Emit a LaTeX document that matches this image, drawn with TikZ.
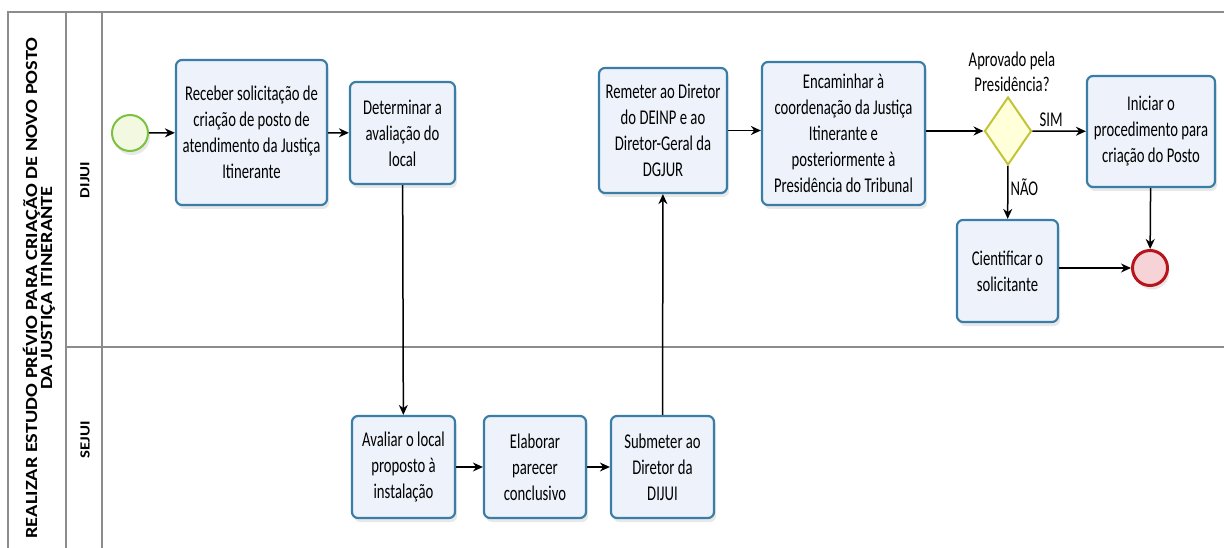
\documentclass[tikz,border=0pt]{standalone}
\usepackage{fontspec}
\setmainfont{Carlito}
\newfontfamily\boxfont{Carlito}[FakeStretch=0.70]
\newfontfamily\poolfont{Carlito}[FakeStretch=1.2]
\usetikzlibrary{arrows.meta,shapes.geometric,shadows}
\definecolor{taskline}{HTML}{3A7DA6}
\definecolor{taskfill}{HTML}{EEF3FB}
\definecolor{poolline}{HTML}{8C8C8C}
\tikzset{
  task/.style={draw=taskline, line width=2.2pt, fill=taskfill, rounded corners=6pt, align=center,
    inner sep=0pt, font=\boxfont\fontsize{21}{26}\selectfont,
    drop shadow={opacity=0.18, shadow xshift=2pt, shadow yshift=-4pt}},
  flow/.style={-{Stealth[length=10pt,width=9pt]}, line width=1.5pt},
  lane/.style={draw=poolline, line width=1.5pt},
  txt/.style={align=center, font=\boxfont\fontsize{21}{25}\selectfont}
}
\begin{document}
\begin{tikzpicture}[x=1pt, y=-1pt]
\useasboundingbox (0,0) rectangle (1224,548);
\definecolor{startline}{HTML}{7CC142}
\definecolor{startfill}{HTML}{F2F9E0}
\definecolor{endline}{HTML}{B8141B}
\definecolor{endfill}{HTML}{F6D3D6}
\definecolor{gateline}{HTML}{C4C43A}
\definecolor{gatefill}{HTML}{FFFFD9}
\draw[lane] (1224,12) -| (8,548);
\draw[lane] (66,12) -- (66,548);
\draw[lane] (102,12) -- (102,548);
\draw[lane] (66,347) -- (1224,347);
\node[rotate=90, align=center, font=\poolfont\bfseries\fontsize{17}{15}\selectfont] (titulo) at (39,288) {REALIZAR ESTUDO PRÉVIO PARA CRIAÇÃO DE NOVO POSTO\\DA JUSTIÇA ITINERANTE};
\node[rotate=90, font=\poolfont\bfseries\fontsize{14}{15}\selectfont] (dijui) at (85,180) {DIJUI};
\node[rotate=90, font=\poolfont\bfseries\fontsize{14}{15}\selectfont] (sejui) at (85,440) {SEJUI};
\node[circle, draw=startline, line width=2pt, fill=startfill, minimum size=36pt, drop shadow={opacity=0.18, shadow xshift=2pt, shadow yshift=-4pt}] (inicio) at (130,133) {};
\node[task, minimum width=151pt, minimum height=145pt] (receber) at (251.5,132.5) {Receber solicitação de\\criação de posto de\\atendimento da Justiça\\Itinerante};
\node[task, minimum width=105pt, minimum height=102pt] (determinar) at (402.5,133) {Determinar a\\avaliação do\\local};
\node[task, minimum width=128pt, minimum height=125pt] (remeter) at (663,130.5) {Remeter ao Diretor\\do DEINP e ao\\Diretor-Geral da\\DGJUR};
\node[task, minimum width=163pt, minimum height=143pt] (encaminhar) at (843.5,133.5) {Encaminhar à\\coordenação da Justiça\\Itinerante e\\posteriormente à\\Presidência do Tribunal};
\node[diamond, draw=gateline, line width=2pt, fill=gatefill, minimum width=47pt, minimum height=68pt, inner sep=0pt] (aprovado) at (1008,131) {};
\node[txt] (pergunta) at (1012,72) {Aprovado pela\\Presidência?};
\node[task, minimum width=128pt, minimum height=111pt] (iniciar) at (1151,131.5) {Iniciar o\\procedimento para\\criação do Posto};
\node[task, minimum width=101pt, minimum height=102pt] (cientificar) at (1007.5,271) {Cientificar o\\solicitante};
\node[circle, draw=endline, line width=3pt, fill=endfill, minimum size=35pt, drop shadow={opacity=0.18, shadow xshift=2pt, shadow yshift=-4pt}] (fim) at (1150,268) {};
\node[task, minimum width=103pt, minimum height=102pt] (avaliar) at (403.5,467) {Avaliar o local\\proposto à\\instalação};
\node[task, minimum width=102pt, minimum height=102pt] (elaborar) at (535,467) {Elaborar\\parecer\\conclusivo};
\node[task, minimum width=103pt, minimum height=102pt] (submeter) at (662.5,467) {Submeter ao\\Diretor da\\DIJUI};
\draw[flow] (inicio) -- (receber);
\draw[flow] (receber) -- (determinar);
\draw[flow] (determinar) -- (avaliar);
\draw[flow] (avaliar) -- (elaborar);
\draw[flow] (elaborar) -- (submeter);
\draw[flow] (submeter) -- (remeter);
\draw[flow] (remeter.east) -- (remeter.east -| encaminhar.west);
\draw[flow] (encaminhar.east |- aprovado) -- (aprovado.west);
\draw[flow] (aprovado) -- node[txt, above, pos=0.35] (sim) {SIM} (iniciar);
\draw[flow] (aprovado) -- node[txt, right, pos=0.4, inner sep=2pt] (nao) {NÃO} (cientificar);
\draw[flow] (iniciar) -- (fim);
\draw[flow] (cientificar.east |- fim) -- (fim);
\end{tikzpicture}
\end{document}
